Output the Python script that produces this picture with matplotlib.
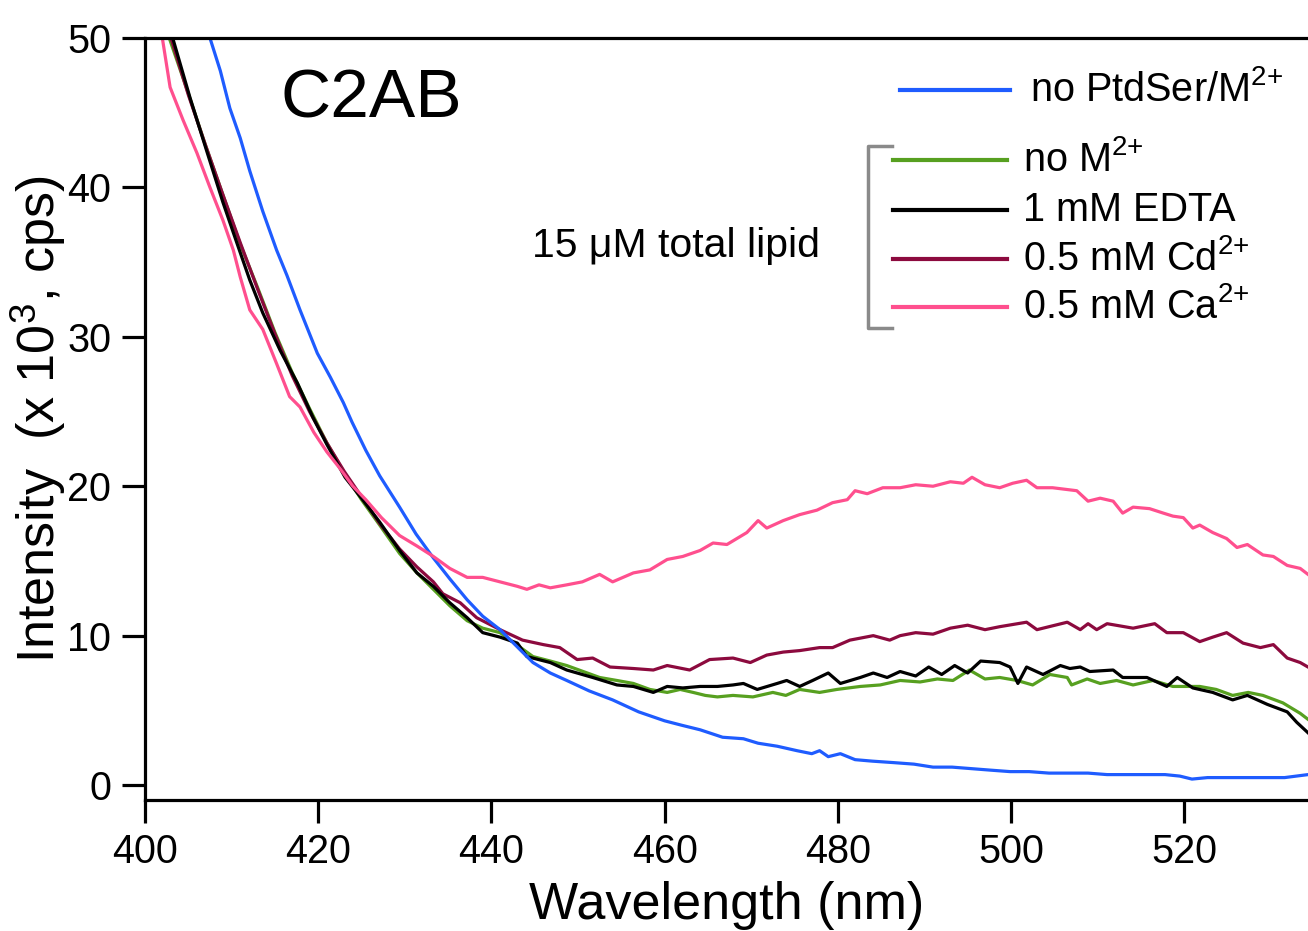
import matplotlib
matplotlib.use('Agg')
import matplotlib.pyplot as plt
from matplotlib.lines import Line2D

plt.rcParams['font.family'] = ['Liberation Sans', 'DejaVu Sans']
plt.rcParams['mathtext.fontset'] = 'custom'
plt.rcParams['mathtext.rm'] = 'Liberation Sans'
plt.rcParams['mathtext.it'] = 'Liberation Sans:italic'
plt.rcParams['mathtext.bf'] = 'Liberation Sans:bold'
plt.rcParams['mathtext.default'] = 'regular'

# no PtdSer / M2+
wl_blue = [407.5, 408.7, 409.8, 411.0, 412.1, 413.6, 415.2, 416.4, 417.9, 419.9,
           421.4, 422.9, 423.9, 425.5, 427.1, 429.4, 431.3, 433.3, 435.2, 437.2,
           439.0, 441.0, 442.9, 444.8, 446.8, 448.7, 451.3, 454.0, 457.0, 460.0,
           462.0, 464.1, 466.7, 469.1, 470.8, 473.0, 475.3, 477.0, 477.9, 478.9,
           480.3, 482.0, 484.0, 486.5, 488.8, 491.0, 493.2, 495.4, 497.6, 499.9,
           502.1, 504.4, 506.6, 508.9, 511.1, 513.3, 515.5, 517.8, 519.5, 520.9,
           522.7, 524.5, 526.8, 529.0, 531.6, 534.3]
int_blue = [50.0, 47.8, 45.3, 43.3, 41.1, 38.4, 35.8, 34.1, 31.8, 28.9,
            27.3, 25.6, 24.3, 22.4, 20.7, 18.6, 16.8, 15.2, 13.8, 12.4,
            11.3, 10.4, 9.3, 8.2, 7.5, 7.0, 6.3, 5.7, 4.9, 4.3,
            4.0, 3.7, 3.2, 3.1, 2.8, 2.6, 2.3, 2.1, 2.3, 1.9,
            2.1, 1.7, 1.6, 1.5, 1.4, 1.2, 1.2, 1.1, 1.0, 0.9,
            0.9, 0.8, 0.8, 0.8, 0.7, 0.7, 0.7, 0.7, 0.6, 0.4,
            0.5, 0.5, 0.5, 0.5, 0.5, 0.7]

# no M2+
wl_green = [402.8, 405.0, 407.0, 409.0, 411.0, 413.0, 415.0, 417.0, 419.0, 421.0,
            423.0, 425.0, 427.1, 429.4, 431.4, 433.3, 435.2, 437.2, 439.0, 441.0,
            442.9, 444.8, 446.8, 448.7, 450.6, 452.5, 454.5, 456.4, 458.3, 460.3,
            461.8, 463.3, 464.7, 466.1, 467.9, 470.2, 472.5, 474.0, 475.6, 477.9,
            479.9, 482.6, 484.9, 487.2, 489.5, 491.5, 493.3, 495.2, 497.0, 498.7,
            500.7, 502.5, 504.5, 506.5, 507.0, 508.8, 510.3, 512.2, 514.1, 516.4,
            518.7, 521.8, 523.7, 525.6, 527.4, 529.1, 531.4, 533.4, 534.3]
int_green = [50.0, 46.3, 42.8, 39.5, 36.2, 33.3, 30.3, 27.6, 25.2, 22.9,
             20.9, 19.1, 17.4, 15.5, 14.2, 13.1, 12.0, 11.0, 10.5, 10.2,
             9.4, 8.6, 8.3, 8.0, 7.6, 7.2, 7.0, 6.8, 6.4, 6.2,
             6.4, 6.2, 6.0, 5.9, 6.0, 5.9, 6.2, 6.0, 6.4, 6.2,
             6.4, 6.6, 6.7, 7.0, 6.9, 7.1, 7.0, 7.7, 7.1, 7.2,
             7.0, 6.7, 7.4, 7.2, 6.7, 7.1, 6.8, 7.0, 6.7, 7.0,
             6.6, 6.6, 6.4, 6.0, 6.2, 6.0, 5.5, 4.8, 4.4]

# 1 mM EDTA
wl_black = [403.2, 405.2, 407.2, 409.0, 410.6, 412.1, 413.6, 415.6, 417.6, 419.4,
            421.0, 423.1, 425.0, 427.1, 429.4, 431.4, 433.3, 435.2, 437.2, 439.0,
            441.0, 443.0, 444.1, 446.8, 448.7, 451.7, 454.5, 456.4, 458.7, 460.3,
            462.1, 464.1, 466.1, 467.9, 469.1, 470.7, 473.0, 474.1, 475.6, 477.1,
            478.9, 480.3, 482.6, 484.1, 485.7, 487.2, 489.0, 490.5, 492.0, 493.5,
            495.0, 496.5, 498.7, 499.9, 500.8, 501.8, 503.7, 505.7, 506.8, 508.0,
            509.1, 511.8, 512.9, 515.7, 518.0, 519.2, 521.0, 523.3, 525.6, 527.3,
            529.6, 531.9, 533.0, 534.3]
int_black = [50.0, 46.0, 42.3, 39.0, 36.3, 33.8, 31.6, 29.1, 26.9, 24.6,
             22.8, 20.6, 19.2, 17.6, 15.7, 14.2, 13.3, 12.2, 11.2, 10.2,
             9.9, 9.5, 8.6, 8.2, 7.7, 7.2, 6.7, 6.6, 6.2, 6.6,
             6.5, 6.6, 6.6, 6.7, 6.8, 6.4, 6.8, 7.0, 6.6, 7.0,
             7.5, 6.8, 7.2, 7.5, 7.2, 7.6, 7.3, 7.9, 7.4, 8.0,
             7.5, 8.3, 8.2, 7.9, 6.8, 7.9, 7.4, 8.0, 7.8, 7.9,
             7.6, 7.7, 7.2, 7.2, 6.6, 7.2, 6.5, 6.2, 5.7, 6.0,
             5.4, 4.9, 4.2, 3.5]

# 0.5 mM Cd2+
wl_cd = [403.0, 405.0, 407.0, 409.0, 411.0, 413.0, 415.0, 417.0, 419.0, 421.0,
         423.0, 425.0, 427.1, 429.4, 431.4, 433.3, 434.4, 436.4, 438.3, 441.0,
         443.6, 446.0, 447.9, 449.9, 451.7, 453.7, 456.4, 458.7, 460.3, 462.9,
         465.2, 467.9, 469.9, 471.8, 473.7, 475.6, 477.9, 479.4, 481.4, 484.1,
         486.0, 487.2, 489.0, 491.0, 493.0, 495.0, 497.0, 498.7, 501.8, 503.0,
         506.5, 508.0, 508.9, 509.9, 511.1, 514.1, 516.6, 518.0, 519.9, 521.8,
         523.3, 524.9, 526.8, 528.8, 530.3, 531.9, 533.4, 534.3]
int_cd = [50.0, 46.2, 42.8, 39.5, 36.3, 33.2, 30.2, 27.4, 25.0, 22.9,
          21.0, 19.3, 17.5, 15.8, 14.6, 13.6, 12.8, 12.2, 11.2, 10.4,
          9.7, 9.4, 9.2, 8.4, 8.5, 7.9, 7.8, 7.7, 8.0, 7.7,
          8.4, 8.5, 8.2, 8.7, 8.9, 9.0, 9.2, 9.2, 9.7, 10.0,
          9.7, 10.0, 10.2, 10.1, 10.5, 10.7, 10.4, 10.6, 10.9, 10.4,
          10.9, 10.4, 10.8, 10.4, 10.8, 10.5, 10.8, 10.2, 10.2, 9.6,
          9.9, 10.2, 9.5, 9.2, 9.4, 8.5, 8.2, 7.9]

# 0.5 mM Ca2+
wl_ca = [402.0, 402.9, 404.4, 406.0, 407.5, 409.0, 410.2, 411.0, 412.1, 413.6,
         415.2, 416.7, 417.9, 419.5, 421.0, 422.5, 424.0, 425.5, 427.3, 429.4,
         431.4, 433.3, 435.2, 437.2, 439.0, 441.0, 443.0, 444.1, 445.5, 446.8,
         448.7, 450.5, 452.5, 454.0, 456.4, 458.3, 460.3, 462.1, 464.1, 465.6,
         467.2, 469.5, 470.8, 471.8, 473.7, 475.6, 477.6, 479.4, 481.1, 482.0,
         483.4, 485.2, 487.2, 489.0, 491.0, 493.0, 494.5, 495.5, 497.0, 498.7,
         500.2, 501.8, 503.0, 504.8, 507.6, 508.9, 510.3, 511.8, 512.9, 514.1,
         516.0, 517.6, 518.7, 519.9, 521.0, 521.8, 523.3, 524.9, 526.1, 527.3,
         529.1, 530.3, 531.9, 533.4, 534.3]
int_ca = [50.0, 46.7, 44.5, 42.3, 40.0, 37.8, 35.8, 34.0, 31.8, 30.5,
          28.2, 26.0, 25.3, 23.6, 22.3, 21.2, 20.0, 19.1, 17.9, 16.7,
          16.0, 15.3, 14.5, 13.9, 13.9, 13.6, 13.3, 13.1, 13.4, 13.2,
          13.4, 13.6, 14.1, 13.6, 14.2, 14.4, 15.1, 15.3, 15.7, 16.2,
          16.1, 16.9, 17.7, 17.2, 17.7, 18.1, 18.4, 18.9, 19.1, 19.7,
          19.5, 19.9, 19.9, 20.1, 20.0, 20.3, 20.2, 20.6, 20.1, 19.9,
          20.2, 20.4, 19.9, 19.9, 19.7, 19.0, 19.2, 19.0, 18.2, 18.6,
          18.5, 18.2, 18.0, 17.9, 17.2, 17.4, 16.9, 16.5, 15.9, 16.1,
          15.4, 15.3, 14.7, 14.5, 14.1]

c_blue = '#1f5cff'
c_green = '#57a020'
c_black = '#000000'
c_cd = '#8c0a3e'
c_ca = '#ff4f8e'

fig = plt.figure(figsize=(13.08, 9.31), dpi=100)
ax = fig.add_axes([145/1308, 131/931, 1163/1308, 762/931])

lw = 2.3
ax.plot(wl_green, int_green, c=c_green, lw=lw)
ax.plot(wl_cd, int_cd, c=c_cd, lw=lw)
ax.plot(wl_black, int_black, c=c_black, lw=lw)
ax.plot(wl_blue, int_blue, c=c_blue, lw=lw)
ax.plot(wl_ca, int_ca, c=c_ca, lw=lw)

ax.set_xlim(400, 534.3)
ax.set_ylim(-1.0, 50)
ax.set_xticks([400, 420, 440, 460, 480, 500, 520])
ax.set_yticks([0, 10, 20, 30, 40, 50])

for s in ['left', 'bottom', 'top']:
    ax.spines[s].set_linewidth(2.3)
ax.spines['right'].set_visible(False)
ax.tick_params(axis='both', direction='out', length=16.5, width=2.3,
               labelsize=28.5)
ax.tick_params(axis='x', pad=7)
ax.tick_params(axis='y', pad=8)

ax.set_xlabel('Wavelength (nm)', fontsize=37.5, va='center')
ax.xaxis.set_label_coords(0.5, (800 - 905) / 762)
ax.set_ylabel('Intensity  (x 10$^{3}$, cps)', fontsize=37.5, va='center')
ax.yaxis.set_label_coords((38 - 145) / 1163, 0.5)


def fx(px):
    return (px - 145) / 1163


def fy(py):
    return (800 - py) / 762


ax.text(fx(280), fy(100), 'C2AB', fontsize=50, ha='left', va='center',
        transform=ax.transAxes)
ax.text(fx(532), fy(246), '15 \u03bcM total lipid', fontsize=29.5,
        ha='left', va='center', transform=ax.transAxes)

# legend, drawn by hand: one line on its own, then four grouped by a bracket
legend_rows = [
    (900, 1010, 90, 1030, c_blue, 'no PtdSer/M$^{2{+}}$'),
    (893, 1007, 160, 1023, c_green, 'no M$^{2{+}}$'),
    (893, 1007, 210, 1023, c_black, '1 mM EDTA'),
    (893, 1007, 259, 1023, c_cd, '0.5 mM Cd$^{2{+}}$'),
    (893, 1007, 307, 1023, c_ca, '0.5 mM Ca$^{2{+}}$'),
]
for x0, x1, yy, xt, col, lab in legend_rows:
    ax.add_line(Line2D([fx(x0), fx(x1)], [fy(yy), fy(yy)], color=col, lw=3,
                       transform=ax.transAxes, clip_on=False))
    ax.text(fx(xt), fy(yy), lab, fontsize=28.5, ha='left', va='center',
            transform=ax.transAxes)

ax.add_line(Line2D([fx(892), fx(868), fx(868), fx(892)],
                   [fy(146), fy(146), fy(328), fy(328)], color='#8a8a8a',
                   lw=2.5, transform=ax.transAxes, clip_on=False))

fig.savefig('out.png', dpi=100)
